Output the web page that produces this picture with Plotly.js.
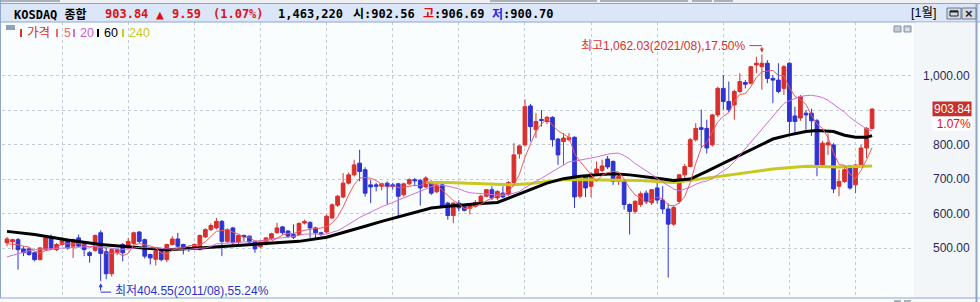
<!DOCTYPE html>
<html><head><meta charset="utf-8">
<script src="https://cdn.plot.ly/plotly-3.0.1.min.js"></script>
<style>html,body{margin:0;padding:0;background:#fff;overflow:hidden}#chart{width:980px;height:302px}</style>
</head><body><div id="chart"></div>
<script>
// ---- data (monthly KOSDAQ composite) ----
const startYear = 2010, startMonth = 3;
const opens  = [516,519,525,498,498,487,467,496,533,496,511,525,506,530,516,487,494,545,490,426,487,511,501,514,547,525,482,468,496,467,511,527,511,503,503,496,533,554,559,578,520,559,517,537,535,520,504,511,527,545,562,550,540,540,573,575,559,545,547,588,625,649,689,713,747,728,684,684,680,689,684,687,655,687,699,697,678,694,664,684,631,595,631,622,616,622,627,651,670,646,660,656,691,774,800,913,844,874,868,880,817,810,815,822,651,708,680,716,726,759,752,694,699,627,607,627,660,632,675,640,614,570,636,713,737,815,850,848,800,887,964,926,916,955,981,979,1032,1027,1037,993,988,964,1037,884,878,892,892,870,742,800,800,680,694,740,684,738,791,848];
const highs  = [533,528,530,506,503,490,503,535,540,515,533,528,528,540,520,492,540,552,501,500,498,515,530,548,550,528,484,495,500,513,535,545,513,505,514,540,558,572,588,582,558,562,540,540,537,522,518,532,545,574,565,552,569,575,583,578,562,548,598,630,655,718,720,757,786,735,699,690,690,694,690,690,690,703,704,702,709,697,688,688,635,634,640,628,630,640,655,672,680,668,680,695,805,800,932,919,892,901,884,883,820,834,834,825,705,712,720,752,757,768,755,713,700,630,640,665,668,672,696,680,630,625,715,745,820,863,902,873,890,969,1003,984,960,1008,988,1029,1056,1062.03,1046,1003,1037,1032,1040,911,945,901,905,875,812,833,805,728,738,742,745,800,852,906.69];
const lows   = [506,496,438,477,478,462,465,494,496,492,508,496,472,503,477,458,490,404.55,410,418,480,462,498,510,515,470,453,450,462,460,508,503,482,490,498,494,530,550,555,477,515,510,512,521,515,487,500,508,524,542,540,530,527,537,569,530,530,535,545,585,620,645,685,708,694,650,631,665,668,627,670,593,650,684,680,624,675,655,660,618,583,573,607,607,598,618,624,648,640,640,645,652,688,760,795,810,820,853,860,795,742,742,810,617,645,648,648,712,720,730,684,684,612,540,600,620,628,625,630,600,415,565,630,700,735,810,791,775,795,880,902,895,873,950,964,975,1008,960,979,921,950,945,834,834,870,844,826,709,735,771,660,651,690,670,660,735,762,845];
const closes = [527,525,496,487,482,467,501,530,498,511,525,501,525,506,496,479,537,485,426,496,496,487,520,545,520,477,472,492,467,511,527,506,496,496,511,537,554,566,578,520,554,516,537,533,518,498,516,530,542,559,545,535,532,572,578,559,545,540,593,626,651,689,713,742,723,660,678,680,687,680,680,651,687,699,696,675,704,660,683,622,595,631,617,610,626,633,651,670,646,665,649,691,771,797,911,853,868,871,880,815,771,820,821,649,699,675,716,730,739,736,694,708,627,607,636,658,635,670,640,614,570,618,713,737,815,848,845,791,887,964,926,902,955,984,976,1027,1037,1037,993,988,955,1027,868,868,940,887,870,738,805,806,672,694,728,675,742,791,848,903.84];
const ma5Head  = [513,512,510,506];
const ma20Head = [475,480,485,489,493,496,497,498,499,500,501,503,504,505,506,505,505,503,503];
// 60- and 240-month averages (month index : value)
const ma60Idx  = [0,5,11,17,23,29,35,41,47,53,58,62,65,68,71,74,77,80,83,86,89,92,95,98,101,104,107,110,113,116,118,121,124,127,130,133,136,139,142,145,147,150,152,154,156,157];
const ma60Val  = [549,540,524,511,503,496,501,508,514,520,532,549,564,578,591,604,617,622,627,630,633,651,670,689,702,709,713,716,713,706,703,697,701,723,747,771,795,817,829,839,842,839,828,822,822,827];
const ma240Idx = [76,80,85,89,92,95,98,101,105,110,115,118,121,124,127,133,139,145,151,157];
const ma240Val = [691,691,688,685,684,688,694,699,699,698,697,694,691,697,704,716,730,738,736,739];
// header quote values
const quoteName = 'KOSDAQ 종합';
const quoteChange = 9.59, quotePct = 1.07, quoteVolume = 1463220;
const dayOpen = 902.56, dayHigh = 906.69, dayLow = 900.70;
const periodLabel = '[1월]';
const yTicks = [500,600,700,800,900,1000];
const legendItems = [['가격','#d8302c','#d8302c'],['5','#f06a6a','#f06a6a'],['20','#d070d6','#c860d0'],['60','#000000','#000000'],['240','#c8c81e','#c8c81e']];

// ---- derived ----
const months = [];
for (let k = 0; k < opens.length; k++) {
  const m0 = startMonth - 1 + k;
  months.push((startYear + Math.floor(m0 / 12)) + '/' + String(m0 % 12 + 1).padStart(2, '0'));
}
const janTicks = months.filter(s => s.endsWith('/01'));
const ma5 = closes.map((c, i) => i < 4 ? ma5Head[i] : closes.slice(i - 4, i + 1).reduce((a, b) => a + b, 0) / 5);
const ma20 = closes.map((c, i) => i < 19 ? ma20Head[i] : closes.slice(i - 19, i + 1).reduce((a, b) => a + b, 0) / 20);
const last = closes.length - 1, lastClose = closes[last];
let maxIdx = 0, minIdx = 0;
highs.forEach((v, i) => { if (v > highs[maxIdx]) maxIdx = i; });
lows.forEach((v, i) => { if (v < lows[minIdx]) minIdx = i; });
const fmt = v => v.toLocaleString('en-US', {minimumFractionDigits: 2, maximumFractionDigits: 2});

// ---- geometry helpers (page pixels -> paper) ----
const W = 980, H = 302, ML = 2, MR = 66, MT = 22, MB = 4;
const PW = W - ML - MR, PH = H - MT - MB;
const px = x => (x - ML) / PW, py = y => 1 - (y - MT) / PH;

const MONO = 'DejaVu Sans Mono, Noto Sans CJK KR, monospace';
const SANS = 'Liberation Sans, Noto Sans CJK KR, sans-serif';

const traces = [
  {type: 'candlestick', x: months, open: opens, high: highs, low: lows, close: closes,
   increasing: {line: {color: '#d8302c', width: 1}, fillcolor: '#d8302c'},
   decreasing: {line: {color: '#2f33d2', width: 1}, fillcolor: '#2f33d2'},
   whiskerwidth: 0, hoverinfo: 'skip'},
  {type: 'scatter', mode: 'lines', x: ma240Idx.map(i => months[i]), y: ma240Val, line: {color: '#c8c81e', width: 3}, hoverinfo: 'skip'},
  {type: 'scatter', mode: 'lines', x: ma60Idx.map(i => months[i]), y: ma60Val, line: {color: '#000000', width: 3}, hoverinfo: 'skip'},
  {type: 'scatter', mode: 'lines', x: months, y: ma20, line: {color: '#d070d6', width: 1}, hoverinfo: 'skip'},
  {type: 'scatter', mode: 'lines', x: months, y: ma5, line: {color: '#f05a5a', width: 1}, hoverinfo: 'skip'}
];

const shapes = [];
const ann = [];
function rect(x0, y0, x1, y1, fill, line, lw) {
  shapes.push({type: 'rect', xref: 'paper', yref: 'paper', x0: px(x0), x1: px(x1), y0: py(y1), y1: py(y0),
    fillcolor: fill, line: {color: line || fill, width: lw === undefined ? 0 : lw}, layer: 'above'});
}
function hline(x0, x1, y, color, w) {
  shapes.push({type: 'line', xref: 'paper', yref: 'paper', x0: px(x0), x1: px(x1), y0: py(y), y1: py(y), line: {color: color, width: w || 1}, layer: 'above'});
}
function vline(x, y0, y1, color, w) {
  shapes.push({type: 'line', xref: 'paper', yref: 'paper', x0: px(x), x1: px(x), y0: py(y0), y1: py(y1), line: {color: color, width: w || 1}, layer: 'above'});
}
function txt(x, y, text, color, size, family, anchor) {
  ann.push({xref: 'paper', yref: 'paper', x: px(x), y: py(y), xanchor: anchor || 'left', yanchor: 'middle',
    text: text, showarrow: false, font: {family: family || MONO, size: size || 12, color: color}});
}

// top strip and header bar
rect(0, 0, 980, 3, '#eef0f3');
[[0, 60], [490, 597], [600, 688], [692, 712], [714, 733]].forEach(s => rect(s[0], 0, s[1], 2, '#a9b1bd'));
rect(0, 3, 980, 22, '#dbe7f8');
hline(0, 980, 3.5, '#8ea6c9', 1);
hline(0, 980, 22, '#8ea6c9', 1);
// right panel and borders
rect(914, 22.5, 976, 298, '#f3f6f8');
vline(976.5, 3, 302, '#8ea6c9', 2);
vline(0.5, 0, 302, '#8ea6c9', 1);
rect(0, 298, 914, 302, '#fafdfe');
hline(0, 980, 298, '#8ea6c9', 1);
rect(894, 300, 901, 302, '#a9b1bd');
rect(904, 300, 911, 302, '#a9b1bd');
// header buttons
rect(947, 8, 961, 19, '#d4dbe6', '#6a7890', 1);
rect(950, 11, 958, 16, 'rgba(0,0,0,0)', '#222', 1);
hline(950, 958, 11.5, '#222', 2);
rect(962, 8, 976, 19, '#d4dbe6', '#6a7890', 1);
txt(969, 13.5, '<b>×</b>', '#222', 13, SANS, 'center');
// small panel icons
rect(894, 26, 901, 32, '#c4ccd8', '#8090a8', 1);
rect(904, 26, 911, 32, '#c4ccd8', '#8090a8', 1);
txt(907.5, 29, '×', '#ffffff', 8, SANS, 'center');

// header texts
const upColor = '#e01010';
txt(12, 14, '<b>' + quoteName + '</b>', '#000', 12);
txt(103, 14, '<b>' + lastClose.toFixed(2) + '</b>', upColor, 12);
txt(154, 14, '<b>▲</b>', upColor, 13);
txt(170, 14, '<b>' + quoteChange.toFixed(2) + '</b>', upColor, 12);
txt(211, 14, '<b>(' + quotePct.toFixed(2) + '%)</b>', upColor, 12);
txt(276, 14, '<b>' + quoteVolume.toLocaleString('en-US') + '</b>', '#000', 12);
txt(351, 14, '<b>시:' + dayOpen.toFixed(2) + '</b>', '#000', 12);
txt(421, 14, '<b>고</b>', upColor, 12);
txt(432, 14, '<b>:' + dayHigh.toFixed(2) + '</b>', '#000', 12);
txt(490, 14, '<b>저</b>', '#2a2ae0', 12);
txt(501, 14, '<b>:' + dayLow.toFixed(2) + '</b>', '#000', 12);
txt(909, 13.5, periodLabel, '#000', 12.5, SANS);

// legend row
rect(6, 25, 15, 30, '#8ea0c0');
const legendPos = [[20, 25], [56, 62], [73, 78], [97, 102], [122, 127]];
legendItems.forEach((it, k) => {
  rect(legendPos[k][0], 29, legendPos[k][0] + 2, 37, it[1]);
  txt(legendPos[k][1], 33, it[0], it[2], 12.5, SANS);
});

// right axis labels
yTicks.forEach(v => ann.push({xref: 'paper', yref: 'y', x: px(972), y: v, xanchor: 'right', yanchor: 'middle',
  text: fmt(v), showarrow: false, font: {family: SANS, size: 12, color: '#1e2a58'}}));
// last price tag
ann.push({xref: 'paper', yref: 'y', x: px(972), y: lastClose, xanchor: 'right', yanchor: 'middle', text: lastClose.toFixed(2),
  showarrow: false, bgcolor: '#c8302c', borderpad: 0, width: 38, height: 14, align: 'right', font: {family: SANS, size: 12, color: '#ffffff'}});
ann.push({xref: 'paper', yref: 'y', x: px(972), y: lastClose, yshift: -14, xanchor: 'right', yanchor: 'middle', text: quotePct.toFixed(2) + '%',
  showarrow: false, bgcolor: '#ffffff', borderpad: 0, width: 38, height: 13, align: 'right', font: {family: SANS, size: 12, color: '#e01010'}});

// highest / lowest markers
const hiPct = ((highs[maxIdx] - lastClose) / lastClose * 100).toFixed(2);
const loPct = ((lastClose - lows[minIdx]) / lastClose * 100).toFixed(2);
ann.push({xref: 'x', yref: 'y', x: months[maxIdx], y: highs[maxIdx], xanchor: 'right', yanchor: 'middle', xshift: -14, yshift: 9,
  text: '최고' + fmt(highs[maxIdx]) + '(' + months[maxIdx] + '),' + hiPct + '%', showarrow: false, font: {family: SANS, size: 12, color: '#d8302c'}});
ann.push({xref: 'x', yref: 'y', x: months[maxIdx], y: highs[maxIdx], yshift: 9, text: '', showarrow: true, arrowhead: 0, ax: -14, ay: 0, arrowcolor: '#d8302c', arrowwidth: 1, standoff: 0, startstandoff: 0});
ann.push({xref: 'x', yref: 'y', x: months[maxIdx], y: highs[maxIdx], yshift: 2, text: '', showarrow: true, arrowhead: 2, arrowsize: 0.8, ax: 0, ay: -7, arrowcolor: '#d8302c', arrowwidth: 1, standoff: 0, startstandoff: 0});
ann.push({xref: 'x', yref: 'y', x: months[minIdx], y: lows[minIdx], xanchor: 'left', yanchor: 'middle', xshift: 12, yshift: -10,
  text: '최저' + lows[minIdx].toFixed(2) + '(' + months[minIdx] + '),' + loPct + '%', showarrow: false, font: {family: SANS, size: 12, color: '#2a32c8'}});
ann.push({xref: 'x', yref: 'y', x: months[minIdx], y: lows[minIdx], yshift: -11, text: '', showarrow: true, arrowhead: 0, ax: 12, ay: 0, arrowcolor: '#2a32c8', arrowwidth: 1, standoff: 0, startstandoff: 0});
ann.push({xref: 'x', yref: 'y', x: months[minIdx], y: lows[minIdx], yshift: -2, text: '', showarrow: true, arrowhead: 2, arrowsize: 0.8, ax: 0, ay: 9, arrowcolor: '#2a32c8', arrowwidth: 1, standoff: 0, startstandoff: 0});

const x0 = -(7 - ML) / 5.51;
const layout = {
  width: W, height: H, margin: {l: ML, r: MR, t: MT, b: MB, pad: 0},
  paper_bgcolor: '#fafdfe', plot_bgcolor: '#fafdfe', showlegend: false,
  boxgap: 0.32, boxgroupgap: 0,
  xaxis: {type: 'category', range: [x0, x0 + PW / 5.51], tickmode: 'array', tickvals: janTicks, showticklabels: false, ticks: '',
    showgrid: true, griddash: 'dot', gridcolor: '#c3ccd6', gridwidth: 1, zeroline: false, showline: false,
    rangeslider: {visible: false}, fixedrange: true},
  yaxis: {side: 'right', range: [355.6, 1156.7], tickmode: 'array', tickvals: yTicks, showticklabels: false,
    ticks: 'outside', ticklen: 4, tickcolor: '#8ea6c9', showline: true, linecolor: '#8ea6c9', linewidth: 1,
    showgrid: true, griddash: 'dot', gridcolor: '#c3ccd6', gridwidth: 1, zeroline: false, fixedrange: true,
    minor: {dtick: 50, tick0: 0, ticks: 'outside', ticklen: 4, tickcolor: '#8ea6c9', showgrid: false}},
  shapes: shapes, annotations: ann
};
Plotly.newPlot('chart', traces, layout, {staticPlot: true, displayModeBar: false});
</script>
</body></html>
